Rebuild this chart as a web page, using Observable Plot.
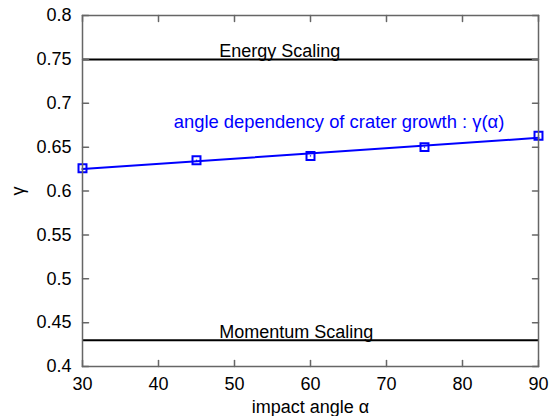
<!DOCTYPE html>
<html>
<head>
<meta charset="utf-8">
<script src="https://cdn.jsdelivr.net/npm/d3@7"></script>
<script src="https://cdn.jsdelivr.net/npm/@observablehq/plot@0.6"></script>
<style>
  html, body { margin: 0; padding: 0; background: #fff; }
</style>
</head>
<body>
<div id="chart"></div>
<script>
// Data
const angles = [30, 45, 60, 75, 90];
const gammas = [0.626, 0.635, 0.640, 0.650, 0.663];
const scalingValues = [0.75, 0.43];
const scalingLabels = ["Energy Scaling", "Momentum Scaling"];
const scalingLabelX = [48, 48];
const seriesLabel = "angle dependency of crater growth : γ(α)";
const seriesLabelPos = [42, 0.672];
const xTicks = [30, 40, 50, 60, 70, 80, 90];
const yTicks = [0.4, 0.45, 0.5, 0.55, 0.6, 0.65, 0.7, 0.75, 0.8];

const points = angles.map((a, i) => ({angle: a, gamma: gammas[i]}));
const scaling = scalingValues.map((v, i) => ({y: v, x: scalingLabelX[i], text: scalingLabels[i]}));

const frameColor = "#666";
const tickShape = {draw(context, l) { context.moveTo(0, 0); context.lineTo(0, -l); }};

const plot = Plot.plot({
  width: 552,
  height: 416,
  marginLeft: 82,
  marginRight: 14,
  marginTop: 15,
  marginBottom: 50,
  style: {fontFamily: "'Liberation Sans', Arial, Helvetica, sans-serif", fontSize: "17px", color: "#000", background: "#fff"},
  x: {domain: [30, 90]},
  y: {domain: [0.4, 0.8]},
  marks: [
    Plot.ruleY(scaling, {y: "y", stroke: "#000", strokeWidth: 2}),
    Plot.text(scaling, {x: "x", y: "y", text: "text", textAnchor: "start", lineAnchor: "bottom", dy: -2, fill: "#000", fontSize: 18}),
    Plot.linearRegressionY(points, {x: "angle", y: "gamma", stroke: "#0000ff", strokeWidth: 2, ci: 0}),
    Plot.dot(points, {x: "angle", y: "gamma", symbol: "square", r: 4.5, stroke: "#0000ff", strokeWidth: 2, fill: "none"}),
    Plot.dot(points, {x: "angle", y: "gamma", symbol: "square", r: 0.7, fill: "#0000ff", stroke: "none"}),
    Plot.text([seriesLabel], {x: () => seriesLabelPos[0], y: () => seriesLabelPos[1], text: d => d, textAnchor: "start", lineAnchor: "bottom", fill: "#0000ff", fontSize: 18.4}),
    Plot.frame({stroke: frameColor, strokeWidth: 1.5}),
    Plot.vector(xTicks, {x: d => d, frameAnchor: "bottom", length: 6, rotate: 0, anchor: "start", shape: tickShape, stroke: frameColor, strokeWidth: 1.5}),
    Plot.vector(xTicks, {x: d => d, frameAnchor: "top", length: 6, rotate: 180, anchor: "start", shape: tickShape, stroke: frameColor, strokeWidth: 1.5}),
    Plot.vector(yTicks, {y: d => d, frameAnchor: "left", length: 6, rotate: 90, anchor: "start", shape: tickShape, stroke: frameColor, strokeWidth: 1.5}),
    Plot.vector(yTicks, {y: d => d, frameAnchor: "right", length: 6, rotate: -90, anchor: "start", shape: tickShape, stroke: frameColor, strokeWidth: 1.5}),
    Plot.axisX(xTicks, {anchor: "bottom", tickSize: 0, tickPadding: 11, fontSize: 18, label: "impact angle α", labelAnchor: "center", labelOffset: 46, labelArrow: false}),
    Plot.axisY(yTicks, {anchor: "left", tickSize: 0, tickPadding: 11, fontSize: 18, tickFormat: d => String(d), label: "γ", labelAnchor: "center", labelOffset: 71, labelArrow: false})
  ]
});
document.getElementById("chart").appendChild(plot);
</script>
</body>
</html>
